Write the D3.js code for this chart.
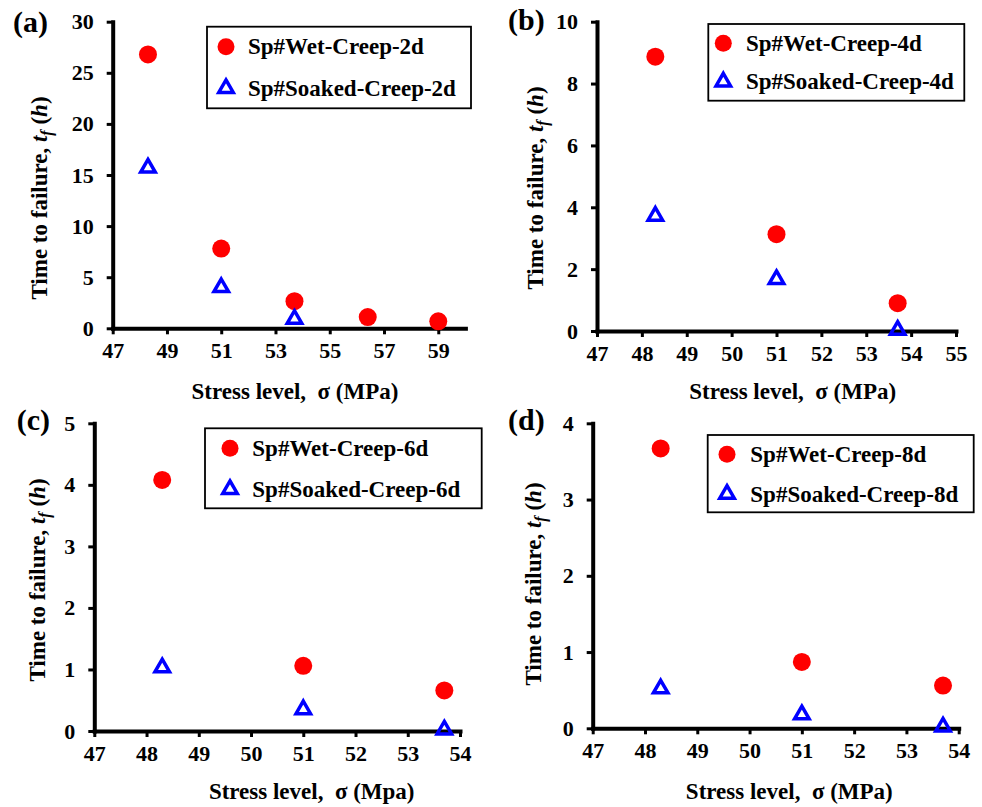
<!DOCTYPE html>
<html>
<head>
<meta charset="utf-8">
<script src="https://cdn.jsdelivr.net/npm/d3@7"></script>
<style>
  html, body { margin: 0; padding: 0; background: #fff; }
  svg { display: block; }
  text { font-family: "Liberation Serif", "Times New Roman", serif; font-weight: bold; fill: #000; }
</style>
</head>
<body>
<svg id="chart" width="982" height="807"></svg>
<script>
// ---- data: time to failure (h) vs stress level (MPa) ----
const stressA = [48.3, 51, 53.7, 56.4, 59];
const stressA2 = [48.3, 51, 53.7];
const wetA = [26.8, 7.8, 2.65, 1.1, 0.68];
const soakedA = [15.7, 4.0, 0.9];

const stressBCD = [48.3, 51, 53.7];
const wetB = [8.87, 3.13, 0.9];
const soakedB = [3.72, 1.67, 0.03];
const wetC = [4.08, 1.06, 0.66];
const soakedC = [1.03, 0.35, 0.02];
const wetD = [3.67, 0.87, 0.56];
const soakedD = [0.52, 0.18, 0.02];

// ---- tick labels ----
const xTicksA = [47, 49, 51, 53, 55, 57, 59];
const yTicksA = [0, 5, 10, 15, 20, 25, 30];
const xTicksB = [47, 48, 49, 50, 51, 52, 53, 54, 55];
const yTicksB = [0, 2, 4, 6, 8, 10];
const xTicksC = [47, 48, 49, 50, 51, 52, 53, 54];
const yTicksC = [0, 1, 2, 3, 4, 5];
const xTicksD = [47, 48, 49, 50, 51, 52, 53, 54];
const yTicksD = [0, 1, 2, 3, 4];

const panelTags = ["(a)", "(b)", "(c)", "(d)"];
const wetNames = ["Sp#Wet-Creep-2d", "Sp#Wet-Creep-4d", "Sp#Wet-Creep-6d", "Sp#Wet-Creep-8d"];
const soakedNames = ["Sp#Soaked-Creep-2d", "Sp#Soaked-Creep-4d", "Sp#Soaked-Creep-6d", "Sp#Soaked-Creep-8d"];
const xTitles = ["Stress level,  \u03C3 (MPa)", "Stress level,  \u03C3 (MPa)", "Stress level,  \u03C3 (Mpa)", "Stress level,  \u03C3 (MPa)"];

// ---- layout of the four panels ----
const panels = [
  { tag: panelTags[0], xs: stressA, wet: wetA, xs2: stressA2, soaked: soakedA,
    xDom: [47, 60], yDom: [0, 30], xTicks: xTicksA, yTicks: yTicksA,
    left: 112.7, right: 465.4, top: 21.7, bottom: 328.3,
    tagPos: [13, 32], yTitle: [47, 198], xTitle: [295, 399],
    legend: { x: 207, y: 26.7, w: 264, h: 81.6, mx: 226, r1: 46.7, r2: 88.3, tx: 248 },
    wetName: wetNames[0], soakedName: soakedNames[0], xTitleText: xTitles[0] },
  { tag: panelTags[1], xs: stressBCD, wet: wetB, xs2: stressBCD, soaked: soakedB,
    xDom: [47, 55], yDom: [0, 10], xTicks: xTicksB, yTicks: yTicksB,
    left: 597, right: 956, top: 21.7, bottom: 331,
    tagPos: [508, 30], yTitle: [543, 188], xTitle: [792.7, 399],
    legend: { x: 708.3, y: 24, w: 256, h: 76.7, mx: 723.3, r1: 43.3, r2: 81.7, tx: 746 },
    wetName: wetNames[1], soakedName: soakedNames[1], xTitleText: xTitles[1] },
  { tag: panelTags[2], xs: stressBCD, wet: wetC, xs2: stressBCD, soaked: soakedC,
    xDom: [47, 54], yDom: [0, 5], xTicks: xTicksC, yTicks: yTicksC,
    left: 94.3, right: 460, top: 423.3, bottom: 731,
    tagPos: [16.7, 430], yTitle: [45, 580], xTitle: [311.7, 799],
    legend: { x: 205, y: 428.3, w: 276.7, h: 80, mx: 230, r1: 448.3, r2: 489.3, tx: 252.3 },
    wetName: wetNames[2], soakedName: soakedNames[2], xTitleText: xTitles[2] },
  { tag: panelTags[3], xs: stressBCD, wet: wetD, xs2: stressBCD, soaked: soakedD,
    xDom: [47, 54], yDom: [0, 4], xTicks: xTicksD, yTicks: yTicksD,
    left: 592.7, right: 958.7, top: 423.3, bottom: 728.3,
    tagPos: [508, 430], yTitle: [541, 584], xTitle: [789.3, 799],
    legend: { x: 707.7, y: 435, w: 266, h: 77.3, mx: 727, r1: 454.3, r2: 494, tx: 750.3 },
    wetName: wetNames[3], soakedName: soakedNames[3], xTitleText: xTitles[3] }
];

const RED = "#ff0000";
const BLUE = "#0000ff";
const AXIS_W = 4;
const TICK_FONT = 22;
const TITLE_FONT = 23;

// open triangle centred on its centroid
function triangle(g, cx, cy) {
  const s = 14.5;              // side length of the path
  const h = s * Math.sqrt(3) / 2;
  const p = d3.path();
  p.moveTo(cx, cy - 2 * h / 3);
  p.lineTo(cx + s / 2, cy + h / 3);
  p.lineTo(cx - s / 2, cy + h / 3);
  p.closePath();
  return g.append("path").attr("d", p.toString())
    .attr("fill", "none").attr("stroke", BLUE).attr("stroke-width", 3.5)
    .attr("stroke-linejoin", "miter");
}

const svg = d3.select("#chart");
svg.append("rect").attr("width", 982).attr("height", 807).attr("fill", "#fff");

panels.forEach(p => {
  const g = svg.append("g");
  const x = d3.scaleLinear().domain(p.xDom).range([p.left, p.right]);
  const y = d3.scaleLinear().domain(p.yDom).range([p.bottom, p.top]);

  // axes
  const xAxis = d3.axisBottom(x).tickValues(p.xTicks).tickSize(6).tickSizeOuter(0)
    .tickPadding(8).tickFormat(d3.format("d"));
  const yAxis = d3.axisLeft(y).tickValues(p.yTicks).tickSize(6).tickSizeOuter(0)
    .tickPadding(13).tickFormat(d3.format("d"));

  const gx = g.append("g").attr("transform", `translate(0,${p.bottom})`).call(xAxis);
  const gy = g.append("g").attr("transform", `translate(${p.left},0)`).call(yAxis);
  [gx, gy].forEach(ax => {
    ax.select(".domain").attr("stroke", "#000").attr("stroke-width", AXIS_W)
      .attr("stroke-linecap", "square");
    ax.selectAll(".tick line").attr("stroke", "#000").attr("stroke-width", 3);
    ax.selectAll(".tick text").attr("font-size", TICK_FONT)
      .attr("font-family", "Liberation Serif, Times New Roman, serif")
      .attr("font-weight", "bold").attr("fill", "#000");
  });
  gx.selectAll(".tick text").attr("dy", "0.71em");

  // series
  g.append("g").selectAll("circle").data(p.wet).join("circle")
    .attr("cx", (d, i) => x(p.xs[i])).attr("cy", d => y(d))
    .attr("r", 9).attr("fill", RED);
  p.soaked.forEach((d, i) => triangle(g, x(p.xs2[i]), y(d)));

  // panel tag
  g.append("text").attr("x", p.tagPos[0]).attr("y", p.tagPos[1])
    .attr("font-size", 30).text(p.tag);

  // y title
  const yt = g.append("text")
    .attr("transform", `translate(${p.yTitle[0]},${p.yTitle[1]}) rotate(-90)`)
    .attr("text-anchor", "middle").attr("font-size", TITLE_FONT);
  yt.append("tspan").text("Time to failure, ");
  yt.append("tspan").attr("font-style", "italic").text("t");
  yt.append("tspan").attr("font-style", "italic").attr("font-size", 16).attr("dy", 5).text("f");
  yt.append("tspan").attr("dy", -5).text(" (");
  yt.append("tspan").attr("font-style", "italic").text("h");
  yt.append("tspan").text(")");

  // x title
  g.append("text").attr("x", p.xTitle[0]).attr("y", p.xTitle[1])
    .attr("text-anchor", "middle").attr("font-size", TITLE_FONT)
    .attr("xml:space", "preserve").style("white-space", "pre")
    .text(p.xTitleText);

  // legend
  const L = p.legend;
  g.append("rect").attr("x", L.x).attr("y", L.y).attr("width", L.w).attr("height", L.h)
    .attr("fill", "#fff").attr("stroke", "#000").attr("stroke-width", 1.8);
  g.append("circle").attr("cx", L.mx).attr("cy", L.r1).attr("r", 8.5).attr("fill", RED);
  triangle(g, L.mx, L.r2);
  g.append("text").attr("x", L.tx).attr("y", L.r1 + 7.5).attr("font-size", TITLE_FONT).text(p.wetName);
  g.append("text").attr("x", L.tx).attr("y", L.r2 + 7.5).attr("font-size", TITLE_FONT).text(p.soakedName);
});
</script>
</body>
</html>
